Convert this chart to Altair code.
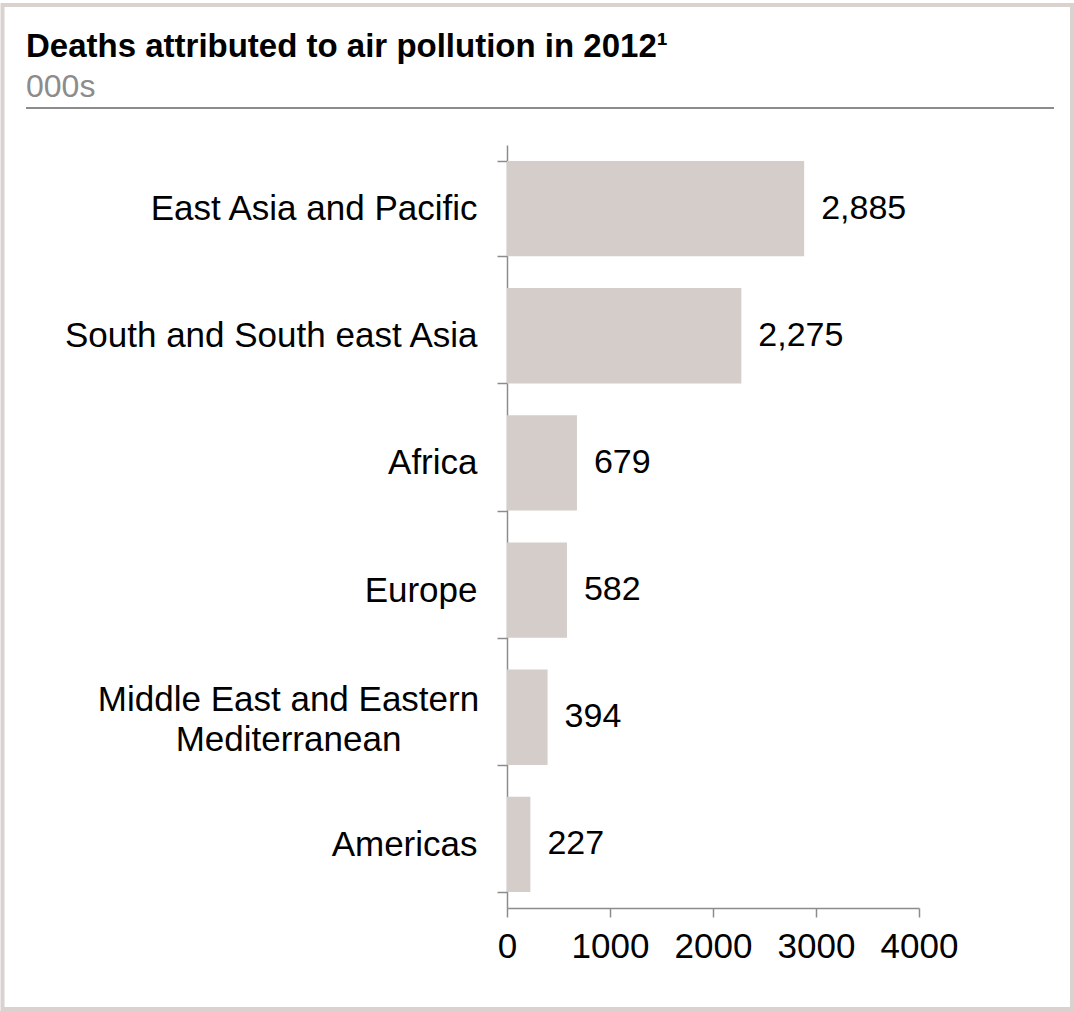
import altair as alt
import pandas as pd

# ---- data ----
categories = [
    "East Asia and Pacific",
    "South and South east Asia",
    "Africa",
    "Europe",
    "Middle East and Eastern Mediterranean",
    "Americas",
]
deaths = [2885, 2275, 679, 582, 394, 227]
x_ticks = [0, 1000, 2000, 3000, 4000]
title_text = "Deaths attributed to air pollution in 2012\u00b9"
subtitle_text = "000s"
two_line_label = "Middle East and Eastern Mediterranean"

df = pd.DataFrame({"region": categories, "deaths": deaths})
one = pd.DataFrame({"t": [title_text], "s": [subtitle_text]})

FONT = "Liberation Sans"
BAR = "#d5cdca"
AXIS = "#8c8c8c"
LABEL_SIZE = 35

W, H = 412, 763
PL, PT = 507, 145
TOTAL_W, TOTAL_H = 1074, 1011

is_two = f"datum.value === '{two_line_label}'"

y_enc = alt.Y(
    "region:N",
    sort=categories,
    title=None,
    scale=alt.Scale(paddingInner=0.25, paddingOuter=0.125),
    axis=alt.Axis(
        labelFont=FONT,
        labelFontSize=LABEL_SIZE,
        labelColor="black",
        labelLimit=800,
        labelLineHeight=40,
        labelExpr=(
            f"datum.label === '{two_line_label}' ? "
            "['Middle East and Eastern', 'Mediterranean'] : datum.label"
        ),
        labelAlign={"condition": {"test": is_two, "value": "center"}, "value": "right"},
        labelPadding={"condition": {"test": is_two, "value": 209}, "value": 20},
        labelOffset={"condition": {"test": is_two, "value": -18}, "value": 0},
        tickBand="extent",
        tickSize=10,
        tickColor=AXIS,
        tickWidth=1.5,
        domainColor=AXIS,
        domainWidth=1.5,
    ),
)

x_enc = alt.X(
    "deaths:Q",
    title=None,
    scale=alt.Scale(domain=[0, 4000], nice=False),
    axis=alt.Axis(
        values=x_ticks,
        format="d",
        labelFont=FONT,
        labelFontSize=LABEL_SIZE,
        labelColor="black",
        labelPadding=12,
        tickSize=9,
        tickColor=AXIS,
        tickWidth=1.5,
        domainColor=AXIS,
        domainWidth=1.5,
        grid=False,
        labelFlush=False,
    ),
)

bars = alt.Chart(df).mark_bar(color=BAR).encode(x=x_enc, y=y_enc)

values_txt = alt.Chart(df).mark_text(
    align="left", baseline="middle", dx=17, font=FONT, fontSize=34, color="black"
).encode(
    x="deaths:Q",
    y=alt.Y("region:N", sort=categories),
    text=alt.Text("deaths:Q", format=","),
)

# decorations (frame, title block, divider)
frame = alt.Chart(one).mark_rect(
    fillOpacity=0, stroke="#d9d2cf", strokeWidth=4
).encode(
    x=alt.value(2.5 - PL), x2=alt.value(1072 - PL),
    y=alt.value(5 - PT), y2=alt.value(1009 - PT),
)

divider = alt.Chart(one).mark_rule(color=AXIS, strokeWidth=2).encode(
    x=alt.value(26 - PL), x2=alt.value(1054 - PL), y=alt.value(108 - PT)
)

title = alt.Chart(one).mark_text(
    align="left", baseline="alphabetic", font=FONT, fontSize=33,
    fontWeight="bold", color="black"
).encode(x=alt.value(26 - PL), y=alt.value(57 - PT), text="t:N")

subtitle = alt.Chart(one).mark_text(
    align="left", baseline="alphabetic", font=FONT, fontSize=32, color="#8c8c8c"
).encode(x=alt.value(26 - PL), y=alt.value(97 - PT), text="s:N")

chart = alt.layer(frame, divider, title, subtitle, bars, values_txt).properties(
    width=W,
    height=H,
    autosize=alt.AutoSizeParams(type="none"),
    padding={"left": PL, "top": PT, "right": TOTAL_W - PL - W, "bottom": TOTAL_H - PT - H},
    background="white",
).configure_view(stroke=None)

chart.save("out.html", embed_options={"renderer": "svg", "actions": False})
